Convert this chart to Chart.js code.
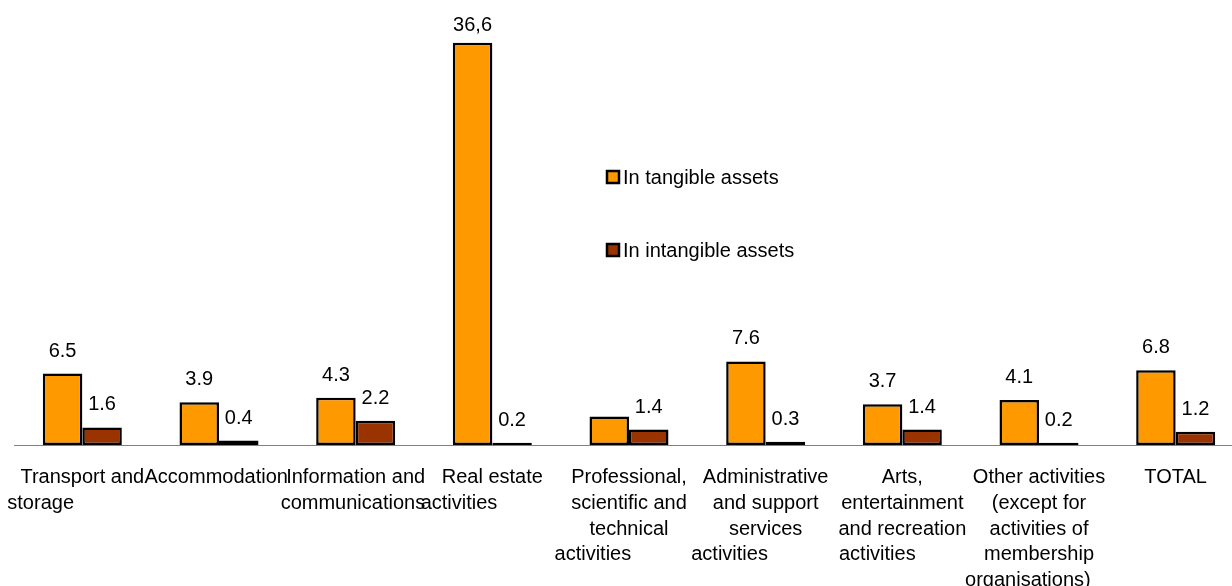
<!DOCTYPE html>
<html>
<head>
<meta charset="utf-8">
<script src="https://cdn.jsdelivr.net/npm/chart.js@4.4.0/dist/chart.umd.min.js"></script>
<style>
  body { margin: 0; overflow: hidden; background: #fff; }
</style>
</head>
<body>
<canvas id="mycanvas" width="1244" height="586"></canvas>
<script>
var categories = [
  ["Transport and", "storage"],
  ["Accommodation"],
  ["Information and", "communications"],
  ["Real estate", "activities"],
  ["Professional,", "scientific and", "technical", "activities"],
  ["Administrative", "and support", "services", "activities"],
  ["Arts,", "entertainment", "and recreation", "activities"],
  ["Other activities", "(except for", "activities of", "membership", "organisations)"],
  ["TOTAL"]
];
var tangible = [6.5, 3.9, 4.3, 36.6, 2.6, 7.6, 3.7, 4.1, 6.8];
var intangible = [1.6, 0.4, 2.2, 0.2, 1.4, 0.3, 1.4, 0.2, 1.2];
var tangibleText = ["6.5", "3.9", "4.3", "36,6", "", "7.6", "3.7", "4.1", "6.8"];
var intangibleText = ["1.6", "0.4", "2.2", "0.2", "1.4", "0.3", "1.4", "0.2", "1.2"];

var FONT = "Arial, 'Liberation Sans', sans-serif";

// trailing spaces push the last line of a label to the left, like the original
var lastLinePad = [15, 1, 1, 12, 13, 13, 9, 4, 0];

var valueLabels = {
  id: 'valueLabels',
  afterDatasetsDraw: function(chart) {
    var ctx = chart.ctx;
    var texts = [tangibleText, intangibleText];
    ctx.save();
    ctx.font = "20px " + FONT;
    ctx.fillStyle = "#000";
    ctx.textAlign = "center";
    ctx.textBaseline = "alphabetic";
    chart.data.datasets.forEach(function(ds, d) {
      chart.getDatasetMeta(d).data.forEach(function(bar, i) {
        var t = texts[d][i];
        if (!t) return;
        ctx.fillText(t, bar.x, Math.max(bar.y - 17, 31));
      });
    });
    ctx.restore();
  }
};

var sideLegend = {
  id: 'sideLegend',
  afterDraw: function(chart) {
    var ctx = chart.ctx;
    var ys = [177, 250];
    ctx.save();
    ctx.font = "20px " + FONT;
    ctx.textBaseline = "middle";
    chart.data.datasets.forEach(function(ds, d) {
      ctx.fillStyle = ds.backgroundColor;
      ctx.fillRect(607, ys[d] - 6, 12, 12);
      ctx.strokeStyle = "#000";
      ctx.lineWidth = 2.5;
      ctx.strokeRect(607, ys[d] - 6, 12, 12);
      ctx.fillStyle = "#000";
      ctx.fillText(ds.label, 623, ys[d] + 1);
    });
    ctx.restore();
  }
};

var ctx = document.getElementById("mycanvas");

var BarGraph = new Chart(ctx, {
  type: 'bar',
  data: {
    labels: categories,
    datasets: [
      {
        label: "In tangible assets",
        backgroundColor: "#FF9900",
        borderColor: "#000",
        borderWidth: 2.5,
        borderSkipped: false,
        data: tangible
      },
      {
        label: "In intangible assets",
        backgroundColor: "#993300",
        borderColor: "#000",
        borderWidth: 2.5,
        borderSkipped: false,
        data: intangible
      }
    ]
  },
  options: {
    responsive: false,
    animation: false,
    devicePixelRatio: 1,
    categoryPercentage: 0.578,
    barPercentage: 1,
    layout: { padding: { left: 14, right: 0, top: 0, bottom: 0 } },
    plugins: {
      legend: { display: false },
      tooltip: { enabled: false }
    },
    scales: {
      x: {
        grid: { display: false, drawTicks: false },
        border: { display: true, color: "#808080", width: 1 },
        afterFit: function(scale) {
          scale.height = 141;
          scale.paddingLeft = 0;
          scale.paddingRight = 0;
        },
        ticks: {
          autoSkip: false,
          maxRotation: 0,
          minRotation: 0,
          padding: 20,
          color: "#000",
          font: { family: FONT, size: 20, lineHeight: 1.28 },
          callback: function(value, i) {
            var lines = categories[i].slice();
            if (lastLinePad[i] && lines.length > 0) {
              lines[lines.length - 1] += " ".repeat(lastLinePad[i]);
            }
            return lines;
          }
        }
      },
      y: {
        display: false,
        min: 0,
        max: 40.5
      }
    }
  },
  plugins: [valueLabels, sideLegend]
});
</script>
</body>
</html>
